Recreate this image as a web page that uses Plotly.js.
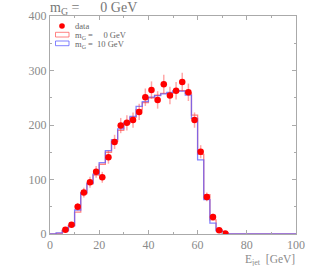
<!DOCTYPE html>
<html>
<head>
<meta charset="utf-8">
<script src="https://cdn.plot.ly/plotly-3.0.1.min.js"></script>
<style>html,body{margin:0;padding:0;background:#fff;}#chart{width:314px;height:266px;}</style>
</head>
<body>
<div id="chart"></div>
<script>
// ---- data ----
const binWidth = 2.5;
// data points (bin centres, GeV)
const dataX = [6.25, 8.75, 11.25, 13.75, 16.25, 18.75, 21.25, 23.75, 26.25, 28.75, 31.25, 33.75, 36.25, 38.75, 41.25, 43.75, 46.25, 48.75, 51.25, 53.75, 56.25, 58.75, 61.25, 63.75, 66.25, 68.75, 71.25];
const dataY = [8, 17, 50, 76, 95, 114, 104, 141, 169, 199, 204, 209, 224, 251, 264, 246, 275, 254, 263, 279, 260, 209, 151, 68, 31, 7, 1];
const dataErr = [3, 4, 7, 9, 10, 11, 10, 12, 13, 14, 14, 14, 15, 16, 16, 16, 17, 16, 16, 17, 16, 14, 12, 8, 6, 3, 1];
// histograms: contents of bins 0-2.5, 2.5-5, ... , 97.5-100
const histM0 = [0, 1, 7, 16, 40, 74, 92, 108, 128, 150, 170, 190, 203, 214, 228, 241, 250, 255, 258, 258, 262, 263, 258, 218, 146, 72, 26, 8, 2, 0, 0, 0, 0, 0, 0, 0, 0, 0, 0, 0];
const histM10 = [0, 2, 6, 15, 44, 76, 93, 110, 131, 153, 173, 193, 205, 216, 234, 243, 251, 254, 257, 260, 263, 262, 255, 212, 136, 63, 20, 6, 1, 0, 0, 0, 0, 0, 0, 0, 0, 0, 0, 0];
const legendLabels = ['data', 'm<sub>G</sub> = \u00a0\u00a0\u00a0 0 GeV', 'm<sub>G</sub> = \u00a010 GeV'];
const titleText = 'm<sub>G</sub> = \u00a0\u00a0\u00a0\u00a0 0 GeV';
const xTitle = 'E<sub>jet</sub> \u00a0[GeV]';

function stepXY(h) {
  const xs = [], ys = [];
  for (let i = 0; i < h.length; i++) { xs.push(i * binWidth); ys.push(h[i]); }
  xs.push(h.length * binWidth); ys.push(h[h.length - 1]);
  return {xs, ys};
}
const s0 = stepXY(histM0), s10 = stepXY(histM10);

const red = 'rgba(255,90,90,0.75)';
const blue = 'rgba(90,90,255,0.75)';
const serif = '"Liberation Serif", "DejaVu Serif", serif';
const grey = '#8a8a8a';

const traces = [
  {x: s0.xs, y: s0.ys, mode: 'lines', line: {shape: 'hv', color: red, width: 1.3}, showlegend: false, hoverinfo: 'skip'},
  {x: s10.xs, y: s10.ys, mode: 'lines', line: {shape: 'hv', color: blue, width: 1.3}, showlegend: false, hoverinfo: 'skip'},
  {x: dataX, y: dataY, mode: 'markers', marker: {color: '#ff0000', size: 6.5},
   error_y: {type: 'data', array: dataErr, visible: true, color: 'rgba(255,60,60,0.45)', thickness: 1.5, width: 0},
   error_x: {type: 'constant', value: binWidth / 2, visible: true, color: 'rgba(255,60,60,0.3)', thickness: 1.2, width: 0},
   showlegend: false}
];

// manual legend (paper coords; plot area 246 x 218 px)
const px = v => (v - 50) / 246;
const py = v => (234 - v) / 218;
const shapes = [
  {type: 'circle', xref: 'paper', yref: 'paper', x0: px(59.2), x1: px(64.8), y0: py(28.8), y1: py(23.2), fillcolor: '#ff0000', line: {width: 0}},
  {type: 'rect', xref: 'paper', yref: 'paper', x0: px(55.5), x1: px(69), y0: py(37), y1: py(32.3), fillcolor: 'rgba(0,0,0,0)', line: {color: red, width: 1}},
  {type: 'rect', xref: 'paper', yref: 'paper', x0: px(55.5), x1: px(69), y0: py(45.7), y1: py(41), fillcolor: 'rgba(0,0,0,0)', line: {color: blue, width: 1}}
];
const legFont = {family: serif, size: 8.5, color: '#666'};
const annotations = [
  {text: legendLabels[0], xref: 'paper', yref: 'paper', x: px(74), y: py(25.5), xanchor: 'left', yanchor: 'middle', showarrow: false, font: legFont, borderpad: 0},
  {text: legendLabels[1], xref: 'paper', yref: 'paper', x: px(74), y: py(35), xanchor: 'left', yanchor: 'middle', showarrow: false, font: legFont, borderpad: 0},
  {text: legendLabels[2], xref: 'paper', yref: 'paper', x: px(74), y: py(44), xanchor: 'left', yanchor: 'middle', showarrow: false, font: legFont, borderpad: 0},
  {text: xTitle, xref: 'paper', yref: 'paper', x: 1, y: py(259.5), xanchor: 'right', yanchor: 'middle', showarrow: false, font: {family: serif, size: 11.5, color: grey}, borderpad: 0}
];

const axisCommon = {
  showgrid: false, zeroline: false, showline: true, linecolor: '#aaa', linewidth: 1,
  mirror: 'allticks', ticks: 'inside', ticklen: 4, tickcolor: '#aaa', tickwidth: 1,
  tickfont: {family: serif, size: 12, color: grey}
};

const layout = {
  width: 314, height: 266,
  margin: {l: 50, r: 18, t: 16, b: 32},
  paper_bgcolor: '#fff', plot_bgcolor: '#fff',
  showlegend: false,
  title: {text: titleText, x: 50 / 314, xref: 'container', xanchor: 'left', y: 1 - 7 / 266, yref: 'container', yanchor: 'middle',
          font: {family: serif, size: 14, color: '#777'}},
  xaxis: Object.assign({}, axisCommon, {range: [0, 100], dtick: 20, tick0: 0,
          minor: {dtick: 10, ticklen: 2, ticks: 'inside', tickcolor: '#aaa'}}),
  yaxis: Object.assign({}, axisCommon, {range: [0, 400], dtick: 100, tick0: 0,
          minor: {dtick: 50, ticklen: 2, ticks: 'inside', tickcolor: '#aaa'}}),
  shapes: shapes,
  annotations: annotations
};

Plotly.newPlot('chart', traces, layout, {staticPlot: true, displayModeBar: false});
</script>
</body>
</html>
